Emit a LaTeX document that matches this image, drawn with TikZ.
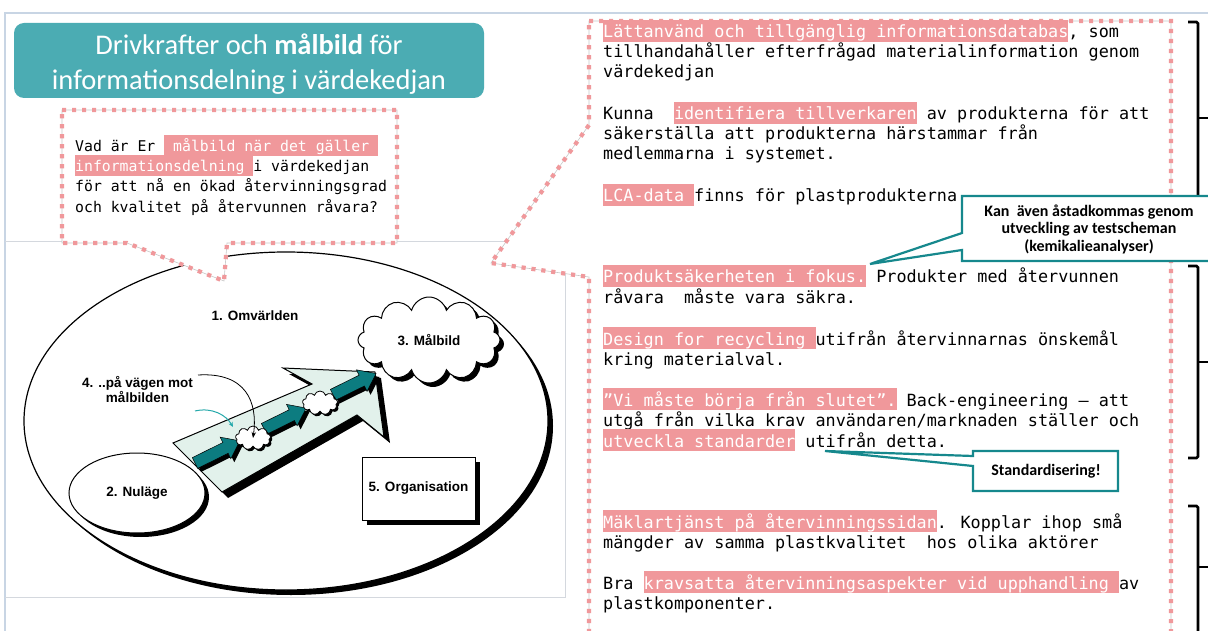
\documentclass[tikz,border=0pt]{standalone}
\usepackage{fontspec}
\setmainfont{Carlito}
\newfontfamily\monofont{DejaVu Sans Mono}
\newfontfamily\labelfont{Liberation Sans}
\usetikzlibrary{shapes.symbols,shapes.geometric,shadows,arrows.meta,calc}

\definecolor{frameblue}{RGB}{200,213,228}
\definecolor{framegray}{RGB}{212,216,222}
\definecolor{titleteal}{RGB}{75,172,179}
\definecolor{calloutteal}{RGB}{22,136,141}
\definecolor{arrowteal}{RGB}{12,124,128}
\definecolor{curveteal}{RGB}{40,170,172}
\definecolor{hlpink}{RGB}{240,152,155}
\definecolor{mint}{RGB}{226,241,235}

% highlighted phrases: white text on a pink band one line high
\newcommand\hlR[1]{{\setlength{\fboxsep}{0pt}\colorbox{hlpink}{\rule[-4pt]{0pt}{22pt}\textcolor{white}{#1}}}}
\newcommand\hlL[1]{{\setlength{\fboxsep}{0pt}\colorbox{hlpink}{\rule[-4pt]{0pt}{21pt}\textcolor{white}{#1}}}}

\tikzset{
  shadowed/.style={general shadow={fill=black, shadow xshift=#1, shadow yshift=-#1}},
  shadowed/.default=4pt,
  picfont/.style={font=\labelfont\bfseries\fontsize{13.5}{15}\selectfont},
  titlefont/.style={anchor=base, inner sep=0, text=white, font=\fontsize{28.5}{34}\selectfont},
  rline/.style={anchor=base west, inner sep=0, font=\monofont\fontsize{16.8}{20}\selectfont},
  qline/.style={anchor=base west, inner sep=0, font=\monofont\fontsize{14.8}{20}\selectfont},
  dotline/.style={draw=hlpink, line width=4.2pt, dash pattern=on 4.2pt off 5.8pt},
  dotbox/.style={fill=white, draw=black!22, line width=0.6pt, postaction={dotline}},
  tealblock/.style={fill=arrowteal, draw=black, line width=0.5pt, shadowed=3.5pt},
  bracket/.style={draw=black, line width=2.6pt, rounded corners=1.5pt},
  calloutshape/.style={fill=white, draw=calloutteal, line width=2.2pt, line join=miter},
  calloutfont/.style={inner sep=0, font=\bfseries\fontsize{16}{17.5}\selectfont},
}

\begin{document}
\begin{tikzpicture}[x=1pt,y=-1pt]
\useasboundingbox (0,0) rectangle (1208,631);
\clip (0,0) rectangle (1208,631);
\fill[white] (0,0) rectangle (1208,631);

% slide frame
\draw[frameblue, line width=1.5pt] (1208,13) -- (5,13) -- (5,631);

% frame of the embedded model picture
\draw[framegray, line width=1pt] (5,242) -- (565,242) -- (565,597) -- (5,597);

% ---- model: surrounding world, present state, goal, path, organisation
\node[ellipse, draw, fill=white, line width=1.2pt, minimum width=524pt, minimum height=338pt,
      inner sep=0, shadowed=5pt] (world) at (286,421) {};
\node[picfont] (worldlabel) at (255,316) {1. Omvärlden};

\node[ellipse, draw, fill=white, line width=1pt, minimum width=136pt, minimum height=80pt,
      inner sep=0, shadowed=4pt, picfont] (now) at (137,493) {2. Nuläge};

% wide perspective arrow
\path[draw=black, line width=1pt, fill=mint, shadowed=6pt]
  (173,443) -- (312,384) -- (283,368) -- (375,372) -- (384,437) -- (357,415) -- (222,492) -- cycle;

% teal steps along the arrow
\path[tealblock, shift={(195,463)}, rotate=26.3]
  (0,-6) -- (34,-6) -- (34,-12) -- (50,0) -- (34,12) -- (34,6) -- (0,6) -- cycle;
\path[tealblock, shift={(195,463)}, rotate=26.3]
  (77,-6) -- (108,-6) -- (108,-12) -- (124,0) -- (108,12) -- (108,6) -- (77,6) -- cycle;
\path[tealblock, shift={(195,463)}, rotate=26.3]
  (154,-6) -- (186,-6) -- (186,-12) -- (202,0) -- (186,12) -- (186,6) -- (154,6) -- cycle;

\node[cloud, cloud puffs=9, cloud ignores aspect, draw, fill=white, line width=0.8pt,
      minimum width=35pt, minimum height=24pt, inner sep=0, shadowed=2pt] (cloudA) at (253,438) {};
\node[cloud, cloud puffs=9, cloud ignores aspect, draw, fill=white, line width=0.8pt,
      minimum width=35pt, minimum height=24pt, inner sep=0, shadowed=2pt] (cloudB) at (320,403) {};

\node[cloud, cloud puffs=12, cloud ignores aspect, draw, fill=white, line width=1pt,
      minimum width=142pt, minimum height=86pt, inner sep=0, shadowed=4pt, picfont] (goal) at (429,340) {3. Målbild};

\node[draw, fill=white, line width=1pt, minimum width=113pt, minimum height=63pt, inner sep=0,
      shadowed=5pt, picfont] (org) at (418.5,488.5) {5. Organisation};

\node[picfont, align=center] (waylabel) at (137.5,390) {4. ..på vägen mot\\målbilden};
\coordinate (waystart) at (198,375);
\draw[line width=0.8pt, -{Stealth[length=6pt,width=4.5pt]}]
  (waystart) .. controls (246,372) and (258,402) .. (cloudA.center);
\coordinate (tealA) at (195,411);
\coordinate (tealB) at (233,427);
\draw[curveteal, line width=1pt, -{Stealth[length=5pt,width=4.5pt]}]
  (tealA) .. controls (212,407) and (226,415) .. (tealB);

% ---- question bubble
\path[dotbox] (62,110) -- (397,110) -- (397,243) -- (227,243) -- (224,281) -- (127,243) -- (62,243) -- cycle;

% ---- answer bubble
\path[dotbox] (589,21) -- (1171,21) -- (1171,660) -- (589,660) -- (589,277) -- (491,263) -- (589,125) -- cycle;

% ---- heading
\node[fill=titleteal, rounded corners=10pt, minimum width=470pt, minimum height=75pt, inner sep=0] (title) at (249,60.5) {};
\node[titlefont] (titleA) at (249,55) {Drivkrafter och \textbf{målbild} för};
\node[titlefont] (titleB) at (249,90) {informationsdelning i värdekedjan};

% ---- question text
\node[qline] (q1) at (75,152) {Vad är Er \hlL{\ målbild när det gäller\ }};
\node[qline] (q2) at (75,172) {\hlL{informationsdelning\ }i värdekedjan};
\node[qline] (q3) at (75,192) {för att nå en ökad återvinningsgrad};
\node[qline] (q4) at (75,213) {och kvalitet på återvunnen råvara?};

% ---- answers
\node[rline] (a1) at (603,38)  {\hlR{Lättanvänd och tillgänglig informationsdatabas}, som};
\node[rline] (a2) at (603,58)  {tillhandahåller efterfrågad materialinformation genom};
\node[rline] (a3) at (603,78)  {värdekedjan};
\node[rline] (a4) at (603,120) {Kunna\ \ \hlR{identifiera tillverkaren} av produkterna för att};
\node[rline] (a5) at (603,140) {säkerställa att produkterna härstammar från};
\node[rline] (a6) at (603,160) {medlemmarna i systemet.};
\node[rline] (a7) at (603,202) {\hlR{LCA-data\ }finns för plastprodukterna};

\node[rline] (b1) at (603,283) {\hlR{Produktsäkerheten i fokus.} Produkter med återvunnen};
\node[rline] (b2) at (603,303) {råvara\ \ måste vara säkra.};
\node[rline] (b3) at (603,345) {\hlR{Design for recycling\ }utifrån återvinnarnas önskemål};
\node[rline] (b4) at (603,365) {kring materialval.};
\node[rline] (b5) at (603,406) {\hlR{”Vi måste börja från slutet”.} Back-engineering – att};
\node[rline] (b6) at (603,426) {utgå från vilka krav användaren/marknaden ställer och};
\node[rline] (b7) at (603,447) {\hlR{utveckla standarder} utifrån detta.};

\node[rline] (c1) at (603,528) {\hlR{Mäklartjänst på återvinningssidan}. Kopplar ihop små};
\node[rline] (c2) at (603,548) {mängder av samma plastkvalitet\ \ hos olika aktörer};
\node[rline] (c3) at (603,589) {Bra \hlR{kravsatta återvinningsaspekter vid upphandling\ }av};
\node[rline] (c4) at (603,609) {plastkomponenter.};

% ---- grouping brackets
\draw[bracket] (1188,22) -- (1198,22) -- (1198,235);
\draw[bracket] (1198,118) -- (1212,118);
\draw[bracket] (1188,266) -- (1198,266) -- (1198,458) -- (1188,458);
\draw[bracket] (1198,362) -- (1212,362);
\draw[bracket] (1188,506) -- (1198,506) -- (1198,645);
\draw[bracket] (1198,567) -- (1212,567);

% ---- comment bubbles
\path[calloutshape] (962,196) -- (1225,196) -- (1225,261) -- (962,261) -- (962,250) -- (870,264) -- (962,233) -- cycle;
\node[calloutfont, align=center] (noteA) at (1089,229) {Kan\ \ även åstadkommas genom\\utveckling av testscheman\\(kemikalieanalyser)};

\path[calloutshape] (973,451) -- (1118,451) -- (1118,491) -- (973,491) -- (973,466) -- (825,451) -- (973,456) -- cycle;
\node[calloutfont] (noteB) at (1046,471) {Standardisering!};
\end{tikzpicture}
\end{document}
